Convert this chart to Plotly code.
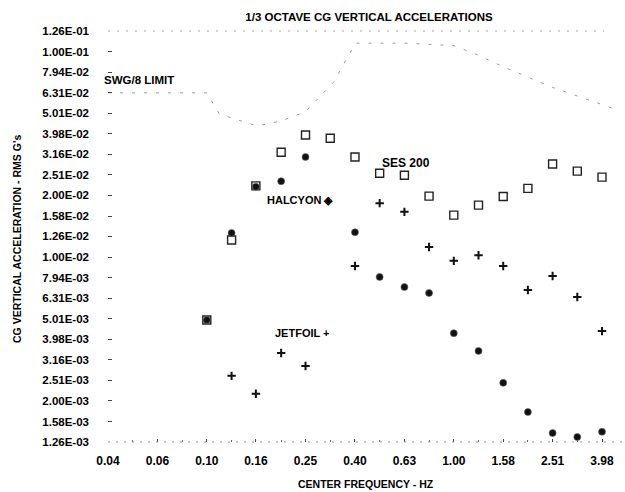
import plotly.graph_objects as go

# ---- data ----
x_tick_vals = [0.0398, 0.0631, 0.1, 0.158, 0.251, 0.398, 0.631, 1.0, 1.585, 2.512, 3.981]
x_tick_text = ["0.04", "0.06", "0.10", "0.16", "0.25", "0.40", "0.63", "1.00", "1.58", "2.51", "3.98"]
x_minor_vals = [0.0501, 0.0794, 0.126, 0.2, 0.316, 0.501, 0.794, 1.259, 1.995, 3.162]

y_tick_vals = [0.00126, 0.00158, 0.002, 0.00251, 0.00316, 0.00398, 0.00501, 0.00631, 0.00794,
               0.01, 0.0126, 0.0158, 0.02, 0.0251, 0.0316, 0.0398, 0.0501, 0.0631, 0.0794, 0.1, 0.126]
y_tick_text = ["1.26E-03", "1.58E-03", "2.00E-03", "2.51E-03", "3.16E-03", "3.98E-03", "5.01E-03",
               "6.31E-03", "7.94E-03", "1.00E-02", "1.26E-02", "1.58E-02", "2.00E-02", "2.51E-02",
               "3.16E-02", "3.98E-02", "5.01E-02", "6.31E-02", "7.94E-02", "1.00E-01", "1.26E-01"]

ses_f = [0.1, 0.126, 0.158, 0.2, 0.251, 0.316, 0.398, 0.501, 0.631, 0.794, 1.0, 1.259, 1.585,
         1.995, 2.512, 3.162, 3.981, 5.012]
ses_v = [4.94e-3, 1.21e-2, 2.22e-2, 3.24e-2, 3.93e-2, 3.79e-2, 3.07e-2, 2.56e-2, 2.50e-2, 1.98e-2,
         1.60e-2, 1.79e-2, 1.97e-2, 2.16e-2, 2.84e-2, 2.62e-2, 2.45e-2, 2.19e-2]

halcyon_f = [0.1, 0.126, 0.158, 0.2, 0.251, 0.398, 0.501, 0.631, 0.794, 1.0, 1.259, 1.585, 1.995,
             2.512, 3.162, 3.981]
halcyon_v = [4.94e-3, 1.31e-2, 2.2e-2, 2.34e-2, 3.07e-2, 1.32e-2, 8.0e-3, 7.14e-3, 6.68e-3, 4.26e-3,
             3.49e-3, 2.44e-3, 1.76e-3, 1.39e-3, 1.33e-3, 1.41e-3]

jetfoil_f = [0.126, 0.158, 0.2, 0.251, 0.398, 0.501, 0.631, 0.794, 1.0, 1.259, 1.585, 1.995, 2.512,
             3.162, 3.981]
jetfoil_v = [2.64e-3, 2.16e-3, 3.41e-3, 2.95e-3, 9.04e-3, 1.83e-2, 1.66e-2, 1.12e-2, 9.58e-3, 1.02e-2,
             9.04e-3, 6.91e-3, 8.09e-3, 6.39e-3, 4.36e-3]

limit_f = [0.0398, 0.1, 0.112, 0.126, 0.16, 0.2, 0.251, 0.326, 0.40, 0.631, 1.0, 1.26, 1.6, 2.51, 4.4]
limit_v = [6.3e-2, 6.3e-2, 5.0e-2, 4.75e-2, 4.35e-2, 4.6e-2, 5.1e-2, 7.1e-2, 1.1e-1, 1.1e-1, 1.07e-1,
           9.6e-2, 8.4e-2, 6.7e-2, 5.3e-2]

FONT = "Liberation Sans"

fig = go.Figure()

fig.add_trace(go.Scatter(x=limit_f, y=limit_v, mode="lines",
                         line=dict(color="#9a9a9a", width=1, dash="3px,9px"),
                         hoverinfo="skip", showlegend=False))

fig.add_trace(go.Scatter(x=ses_f, y=ses_v, mode="markers", name="SES 200", cliponaxis=False,
                         marker=dict(symbol="square-open", size=8, color="#222",
                                     line=dict(width=1.4, color="#222"))))
fig.add_trace(go.Scatter(x=halcyon_f, y=halcyon_v, mode="markers", name="HALCYON", cliponaxis=False,
                         marker=dict(symbol="circle", size=7, color="#111",
                                     line=dict(width=0.6, color="#666"))))
fig.add_trace(go.Scatter(x=jetfoil_f, y=jetfoil_v, mode="markers", name="JETFOIL", cliponaxis=False,
                         marker=dict(symbol="cross-thin", size=6, color="#111",
                                     line=dict(width=2, color="#111"))))

L, R, T, B = 108, 0, 31, 50
W, H = 625, 492
pw, ph = W - L - R, H - T - B


def px(xp):
    return (xp - L) / pw


def py(yp):
    return (H - B - yp) / ph


fig.update_layout(
    width=W, height=H,
    margin=dict(l=L, r=R, t=T, b=B),
    paper_bgcolor="white", plot_bgcolor="white",
    showlegend=False,
    font=dict(family=FONT, color="#000", size=12, weight="bold"),
    title=dict(text="1/3 OCTAVE CG VERTICAL ACCELERATIONS", xref="container", yref="container",
               x=369 / W, y=(H - 17) / H, xanchor="center", yanchor="middle",
               font=dict(family=FONT, size=11.5, weight="bold", color="#000")),
    xaxis=dict(type="log", range=[-1.4, -1.4 + pw / 247.0], showgrid=False, zeroline=False,
               showline=False, tickmode="array", tickvals=x_tick_vals, ticktext=x_tick_text,
               ticks="inside", ticklen=3, tickwidth=1.2, tickcolor="#444",
               ticklabelstandoff=10,
               tickfont=dict(family=FONT, size=12, weight="bold", color="#000"),
               minor=dict(tickvals=x_minor_vals, ticks="inside", ticklen=2, tickcolor="#666",
                          tickwidth=1)),
    yaxis=dict(type="log", range=[-2.9005, -0.8995], showgrid=False, zeroline=False, showline=False,
               tickmode="array", tickvals=y_tick_vals, ticktext=y_tick_text,
               ticks="inside", ticklen=4, tickwidth=1.2, tickcolor="#444",
               ticklabelstandoff=18,
               tickfont=dict(family=FONT, size=11.5, weight="bold", color="#000")),
    shapes=[
        dict(type="line", xref="paper", yref="paper", x0=0, x1=1, y0=0, y1=0,
             line=dict(color="#999", width=1, dash="2px,6px")),
        dict(type="line", xref="paper", yref="paper", x0=0, x1=0.96, y0=1, y1=1,
             line=dict(color="#aaa", width=1, dash="2px,7px")),
    ],
    annotations=[
        dict(text="SWG/8 LIMIT", xref="paper", yref="paper", x=px(102), y=py(80),
             xanchor="left", yanchor="middle", showarrow=False,
             font=dict(family=FONT, size=11.5, weight="bold")),
        dict(text="HALCYON ◈", xref="paper", yref="paper", x=px(265), y=py(200),
             xanchor="left", yanchor="middle", showarrow=False,
             font=dict(family=FONT, size=11, weight="bold")),
        dict(text="SES 200", xref="paper", yref="paper", x=px(380), y=py(163),
             xanchor="left", yanchor="middle", showarrow=False,
             font=dict(family=FONT, size=12, weight="bold")),
        dict(text="JETFOIL +", xref="paper", yref="paper", x=px(273), y=py(333),
             xanchor="left", yanchor="middle", showarrow=False,
             font=dict(family=FONT, size=11, weight="bold")),
        dict(text="CG VERTICAL ACCELERATION - RMS G's", xref="paper", yref="paper",
             x=px(17), y=py(239), xanchor="center", yanchor="middle", textangle=-90,
             showarrow=False, font=dict(family=FONT, size=10.5, weight="bold")),
        dict(text="CENTER FREQUENCY - HZ", xref="paper", yref="paper", x=px(366), y=py(484),
             xanchor="center", yanchor="middle", showarrow=False,
             font=dict(family=FONT, size=10.5, weight="bold")),
    ],
)

fig.write_html("out.html")
